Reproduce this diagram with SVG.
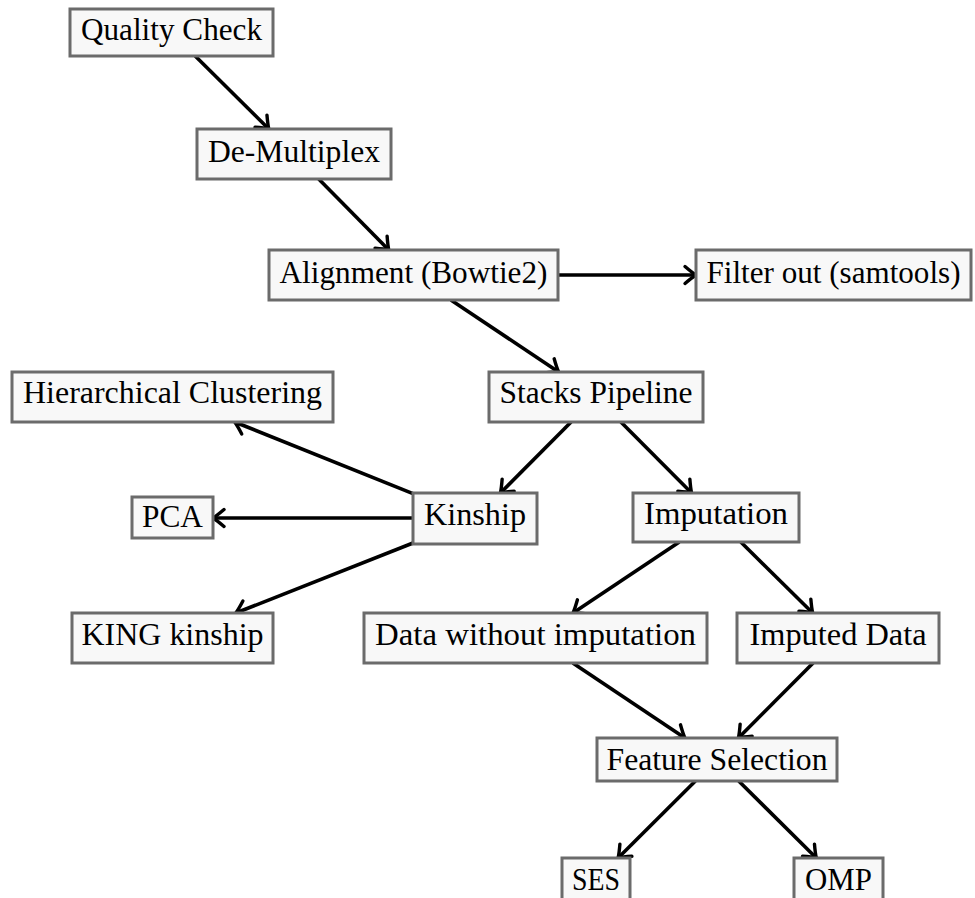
<svg xmlns="http://www.w3.org/2000/svg" width="975" height="898" viewBox="0 0 975 898">
  <style>
    .box { fill: #f8f8f8; stroke: #6b6b6b; stroke-width: 3; }
    .lbl { font-family: "Liberation Serif", "DejaVu Serif", serif; font-size: 31px; fill: #000; text-anchor: middle; }
    .edge { stroke: #000; stroke-width: 3.6; fill: none; marker-end: url(#arr); }
  </style>
  <defs>
    <!-- open curved arrow tip, drawn in user units -->
    <marker id="arr" markerUnits="userSpaceOnUse" orient="auto" viewBox="-14 -11 16 22" markerWidth="16" markerHeight="22" refX="0" refY="0" overflow="visible">
      <path d="M-11,-8.5 Q-4,-2.5 0,0 Q-4,2.5 -11,8.5" fill="none" stroke="#000" stroke-width="3.4" stroke-linecap="round" stroke-linejoin="round"/>
    </marker>
  </defs>
  <rect width="975" height="898" fill="#fff"/>

  <!-- connectors -->
  <g id="edges">
    <line class="edge" x1="195.2" y1="56" x2="268.8" y2="129"/>
    <line class="edge" x1="318.7" y1="179" x2="388.8" y2="250"/>
    <line class="edge" x1="558" y1="275" x2="696" y2="275"/>
    <line class="edge" x1="450.9" y1="300" x2="558.6" y2="372"/>
    <line class="edge" x1="571.1" y1="422" x2="500.4" y2="493"/>
    <line class="edge" x1="620.9" y1="422" x2="691.6" y2="493"/>
    <line class="edge" x1="413" y1="493.6" x2="234.7" y2="422"/>
    <line class="edge" x1="413" y1="518" x2="213" y2="518"/>
    <line class="edge" x1="413" y1="543" x2="235.8" y2="613"/>
    <line class="edge" x1="679.3" y1="542" x2="573" y2="613"/>
    <line class="edge" x1="740.8" y1="542" x2="812.7" y2="613"/>
    <line class="edge" x1="572.8" y1="663" x2="684.9" y2="738"/>
    <line class="edge" x1="813.1" y1="663" x2="738.4" y2="738"/>
    <line class="edge" x1="695.4" y1="781" x2="618.1" y2="858"/>
    <line class="edge" x1="738.7" y1="781" x2="816.3" y2="858"/>
  </g>

  <!-- nodes -->
  <g id="quality-check">
    <rect class="box" x="70" y="9" width="203" height="47"/>
    <text class="lbl" x="171.5" y="40" textLength="181" lengthAdjust="spacingAndGlyphs">Quality Check</text>
  </g>
  <g id="de-multiplex">
    <rect class="box" x="197" y="129" width="194" height="50"/>
    <text class="lbl" x="294" y="161.5" textLength="172" lengthAdjust="spacingAndGlyphs">De-Multiplex</text>
  </g>
  <g id="alignment">
    <rect class="box" x="269" y="250" width="289" height="50"/>
    <text class="lbl" x="413.5" y="282.5" textLength="268" lengthAdjust="spacingAndGlyphs">Alignment (Bowtie2)</text>
  </g>
  <g id="filter-out">
    <rect class="box" x="696" y="250" width="275" height="50"/>
    <text class="lbl" x="833.5" y="282.5" textLength="254" lengthAdjust="spacingAndGlyphs">Filter out (samtools)</text>
  </g>
  <g id="hierarchical-clustering">
    <rect class="box" x="12" y="372" width="321" height="50"/>
    <text class="lbl" x="172.5" y="403" textLength="299" lengthAdjust="spacingAndGlyphs">Hierarchical Clustering</text>
  </g>
  <g id="stacks-pipeline">
    <rect class="box" x="489" y="372" width="214" height="50"/>
    <text class="lbl" x="596" y="403" textLength="193" lengthAdjust="spacingAndGlyphs">Stacks Pipeline</text>
  </g>
  <g id="kinship">
    <rect class="box" x="413" y="493" width="124" height="51"/>
    <text class="lbl" x="475" y="525" textLength="102" lengthAdjust="spacingAndGlyphs">Kinship</text>
  </g>
  <g id="pca">
    <rect class="box" x="132" y="497" width="81" height="41"/>
    <text class="lbl" x="172.5" y="527" textLength="61" lengthAdjust="spacingAndGlyphs">PCA</text>
  </g>
  <g id="imputation">
    <rect class="box" x="633" y="493" width="166" height="49"/>
    <text class="lbl" x="716" y="524" textLength="144" lengthAdjust="spacingAndGlyphs">Imputation</text>
  </g>
  <g id="king-kinship">
    <rect class="box" x="72" y="613" width="201" height="50"/>
    <text class="lbl" x="172.5" y="645" textLength="182" lengthAdjust="spacingAndGlyphs">KING kinship</text>
  </g>
  <g id="data-without-imputation">
    <rect class="box" x="364" y="613" width="343" height="50"/>
    <text class="lbl" x="535.5" y="645" textLength="321" lengthAdjust="spacingAndGlyphs">Data without imputation</text>
  </g>
  <g id="imputed-data">
    <rect class="box" x="737" y="613" width="202" height="50"/>
    <text class="lbl" x="838" y="645" textLength="177" lengthAdjust="spacingAndGlyphs">Imputed Data</text>
  </g>
  <g id="feature-selection">
    <rect class="box" x="597" y="738" width="240" height="43"/>
    <text class="lbl" x="717" y="770" textLength="221" lengthAdjust="spacingAndGlyphs">Feature Selection</text>
  </g>
  <g id="ses">
    <rect class="box" x="562" y="858" width="68" height="44"/>
    <text class="lbl" x="596" y="890" textLength="48" lengthAdjust="spacingAndGlyphs">SES</text>
  </g>
  <g id="omp">
    <rect class="box" x="794" y="858" width="89" height="44"/>
    <text class="lbl" x="838.5" y="890" textLength="67" lengthAdjust="spacingAndGlyphs">OMP</text>
  </g>
</svg>
